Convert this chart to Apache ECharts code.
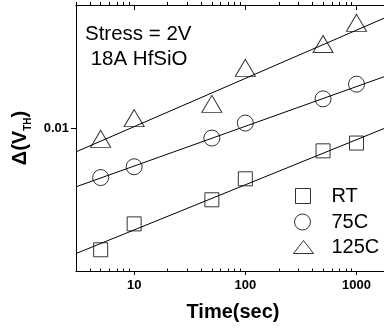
<!DOCTYPE html>
<html><head><meta charset="utf-8">
<script src="https://cdn.jsdelivr.net/npm/echarts@6/dist/echarts.min.js"></script>
<style>html,body{margin:0;padding:0;background:#fff}#c{width:384px;height:329px}</style>
</head><body><div id="c"></div>
<script>
const times = [5, 10, 50, 100, 500, 1000];
const rtValues = [0.00254, 0.0034, 0.00446, 0.00565, 0.00774, 0.00845];
const c75Values = [0.00573, 0.00647, 0.00894, 0.01058, 0.0139, 0.0164];
const c125Values = [0.00886, 0.01119, 0.01313, 0.0197, 0.0258, 0.0327];
const fitTimes = [3, 2000];
const rtFit = [0.002435, 0.01023];
const c75Fit = [0.00516, 0.01827];
const c125Fit = [0.00765, 0.0355];
const seriesNames = ['RT', '75C', '125C'];
const xMajorTicks = [10, 100, 1000];
const xMinorTicks = [3,4,5,6,7,8,9,20,30,40,50,60,70,80,90,200,300,400,500,600,700,800,900,2000];
const yMajorTicks = [0.01];
const yMinorTicks = [0.002,0.003,0.004,0.005,0.006,0.007,0.008,0.009,0.02,0.03,0.04];
const xRange = [3, 2000];
const yRange = [0.002, 0.04];
const annotationText = 'Stress = 2V\n 18A HfSiO';

const FONT = '"Liberation Sans", Arial, Helvetica, sans-serif';
const BLACK = '#000';

function axisCfg(kind, pos, ticks, len, inside, withLine, labels) {
  const range = kind === 'x' ? xRange : yRange;
  return {
    type: 'log', gridIndex: 0, position: pos, min: range[0], max: range[1],
    axisLine: {show: withLine, lineStyle: {color: BLACK, width: 1}},
    axisTick: {show: true, customValues: ticks, length: len, inside: inside, lineStyle: {color: BLACK, width: 1}},
    axisLabel: labels ? {show: true, customValues: labels, margin: kind === 'x' ? 8 : 7,
      fontFamily: FONT, fontWeight: 'bold', fontSize: 13, color: BLACK,
      formatter: v => String(v)} : {show: false},
    splitLine: {show: false}, minorTick: {show: false}, minorSplitLine: {show: false}
  };
}

const xAxes = [
  Object.assign(axisCfg('x', 'bottom', xMajorTicks, 4, false, true, xMajorTicks), {
    name: 'Time(sec)', nameLocation: 'middle', nameGap: 31,
    nameTextStyle: {fontFamily: FONT, fontWeight: 'bold', fontSize: 20, color: BLACK, lineHeight: 20}
  }),
  axisCfg('x', 'top', xMajorTicks, 5, true, true, null),
  axisCfg('x', 'top', xMinorTicks, 3, false, false, null),
  axisCfg('x', 'bottom', xMinorTicks, 2.5, true, false, null)
];
const yAxes = [
  Object.assign(axisCfg('y', 'left', yMajorTicks, 5, false, true, yMajorTicks), {
    name: '{a|Δ(V}{b|TH}{a|)}', nameLocation: 'middle', nameGap: 43,
    nameTextStyle: {fontFamily: FONT, fontWeight: 'bold', fontSize: 20, color: BLACK,
      rich: {
        a: {fontFamily: FONT, fontWeight: 'bold', fontSize: 20, lineHeight: 20, color: BLACK},
        b: {fontFamily: FONT, fontWeight: 'bold', fontSize: 10, lineHeight: 10, padding: [14, 0, 0, 0], color: BLACK}
      }}
  }),
  axisCfg('y', 'right', yMajorTicks, 5, true, true, null),
  axisCfg('y', 'right', yMinorTicks, 3, false, false, null)
];

const markerStyle = {color: 'rgba(0,0,0,0)', borderColor: BLACK, borderWidth: 1};
const symbols = ['rect', 'circle', 'triangle'];
const symbolSizes = [14, 16, [20, 17]];
const valueSets = [rtValues, c75Values, c125Values];
const fitSets = [rtFit, c75Fit, c125Fit];

const series = [];
seriesNames.forEach((name, i) => {
  series.push({
    type: 'line', name: name + ' fit', xAxisIndex: 0, yAxisIndex: 0,
    data: fitTimes.map((t, k) => [t, fitSets[i][k]]),
    showSymbol: false, symbol: 'none', silent: true,
    lineStyle: {color: BLACK, width: 1}, z: 3
  });
  series.push({
    type: 'scatter', name: name, xAxisIndex: 0, yAxisIndex: 0,
    data: times.map((t, k) => [t, valueSets[i][k]]),
    symbol: symbols[i], symbolSize: symbolSizes[i],
    itemStyle: markerStyle, z: 4
  });
});

const legendGeom = [
  {left: 295, top: 186, w: 15, h: 15, pad: 16},
  {left: 294, top: 212, w: 16, h: 16, pad: 16},
  {left: 293, top: 237, w: 20, h: 13, pad: 13}
];
const legends = seriesNames.map((name, i) => ({
  data: [{name: name, icon: symbols[i]}],
  left: legendGeom[i].left, top: legendGeom[i].top, padding: 0,
  itemWidth: legendGeom[i].w, itemHeight: legendGeom[i].h,
  selectedMode: false,
  itemStyle: {color: 'rgba(0,0,0,0)', borderColor: BLACK, borderWidth: 1},
  textStyle: {fontFamily: FONT, fontSize: 20, color: BLACK, lineHeight: 20, padding: [0, 0, 0, legendGeom[i].pad]}
}));

const chart = echarts.init(document.getElementById('c'), null, {renderer: 'canvas'});
chart.setOption({
  animation: false,
  backgroundColor: '#fff',
  title: {text: annotationText, left: 85, top: 22, padding: 0,
    textStyle: {fontFamily: FONT, fontWeight: 'normal', fontSize: 20.5, lineHeight: 25, color: BLACK}},
  legend: legends,
  grid: {left: 76, right: -6, top: 5, bottom: 58, containLabel: false, outerBoundsMode: 'none'},
  xAxis: xAxes,
  yAxis: yAxes,
  series: series
});
</script></body></html>
